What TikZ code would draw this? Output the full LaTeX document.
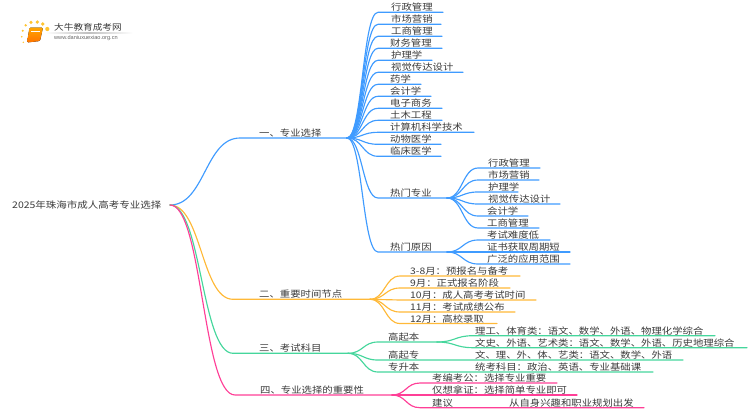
\documentclass[tikz,border=0pt]{standalone}
\usepackage{fontspec}
\setmainfont[FakeStretch=1.15]{Noto Sans CJK SC}
\setsansfont{Liberation Sans}
\usetikzlibrary{calc}
\definecolor{cblue}{HTML}{3F9BFF}
\definecolor{corange}{HTML}{FFB938}
\definecolor{cgreen}{HTML}{45D69C}
\definecolor{cpink}{HTML}{FF3F97}
\definecolor{ctext}{HTML}{3A3A3A}
\tikzset{
  lbl/.style={anchor=base west,inner sep=0pt,text=ctext,font=\fontsize{9.02}{11}\selectfont},
  branch/.style={line width=1.15pt,line cap=round},
}
% name, colour, hub, start x, end x, y, text x, text
\newcommand\tree[8]{%
  \node[lbl] (#1) at (#7,#6-1.5) {#8};
  \coordinate (#1-s) at (#4,#6);
  \coordinate (#1-e) at (#5,#6);
  \coordinate (#1-m) at ($(#3)!.5!(#1-s)$);
  \draw[branch,draw=#2] (#3) .. controls (#1-m |- #3) and (#1-m |- #1-s) .. (#1-s) -- (#1-e);
}
\begin{document}
\begin{tikzpicture}[x=1pt,y=-1pt]
\useasboundingbox (0,0) rectangle (750,410);
% logo
\foreach \px/\py/\r in {22.7/30.7/1.1,25.7/25.3/1.3,31/22.3/1.7,37.3/22/1.8,42.7/24/1.9,47.3/29/2.1,21.7/36.7/0.9,23.3/42.3/0.8}
  \fill[corange!85!yellow] (\px,\py) circle (\r);
\fill[rounded corners=1.2pt,top color=orange!70!yellow,bottom color=orange!90!red]
  (29.5,27.5) -- (43,27.5) -- (40,41) -- (27,42.5) -- cycle;
\draw[white,line width=0.5pt] (31,31) -- (40,31);
\shade[left color=white,right color=white,middle color=black!25] (45,32.7) rectangle (133,33.3);
\node[anchor=west,inner sep=0pt,text=ctext,font=\fontsize{8.4}{11}\selectfont] (logotext) at (54,27.5) {大牛教育成考网};
\node[anchor=west,inner sep=0pt,text=black!60,font=\sffamily\fontsize{5.6}{7}\selectfont] (logourl) at (54,38.5) {www.daniuxuexiao.org.cn};
% root
\node[lbl,font=\fontsize{9.12}{11}\selectfont] (root) at (12,208.5) {2025年珠海市成人高考专业选择};
\coordinate (h0) at (170,205);
\coordinate (h1) at (347,138);
\coordinate (h1b) at (447,198);
\coordinate (h1c) at (447,252);
\coordinate (h2) at (370,299.3);
\coordinate (h3) at (348,353.3);
\coordinate (h3a) at (437,342);
\coordinate (h4) at (392,395);
% level 1
\tree{a}{cblue}{h0}{240}{347}{138}{259}{一、专业选择}
\tree{b}{corange}{h0}{233}{370}{299.3}{259}{二、重要时间节点}
\tree{c}{cgreen}{h0}{233}{348}{353.3}{259}{三、考试科目}
\tree{d}{cpink}{h0}{235}{392}{395}{260}{四、专业选择的重要性}
% branch 1
\tree{a1}{cblue}{h1}{378}{443}{12.3}{391}{行政管理}
\tree{a2}{cblue}{h1}{378}{441}{24.3}{391}{市场营销}
\tree{a3}{cblue}{h1}{378}{442}{36.3}{391}{工商管理}
\tree{a4}{cblue}{h1}{378}{442}{48.3}{390}{财务管理}
\tree{a5}{cblue}{h1}{378}{432}{60.3}{391}{护理学}
\tree{a6}{cblue}{h1}{378}{463}{72.3}{391}{视觉传达设计}
\tree{a7}{cblue}{h1}{378}{421}{84.3}{390}{药学}
\tree{a8}{cblue}{h1}{378}{431}{96.3}{390}{会计学}
\tree{a9}{cblue}{h1}{378}{442}{108.3}{390}{电子商务}
\tree{a10}{cblue}{h1}{378}{442}{120.3}{390}{土木工程}
\tree{a11}{cblue}{h1}{378}{474}{132.3}{390}{计算机科学技术}
\tree{a12}{cblue}{h1}{378}{441}{144.3}{390}{动物医学}
\tree{a13}{cblue}{h1}{378}{441}{156.3}{390}{临床医学}
\tree{a14}{cblue}{h1}{378}{447}{198}{390}{热门专业}
\tree{a15}{cblue}{h1}{378}{447}{252}{390}{热门原因}
% hot majors
\tree{p1}{cblue}{h1b}{478}{540}{168}{488}{行政管理}
\tree{p2}{cblue}{h1b}{478}{539}{180}{488}{市场营销}
\tree{p3}{cblue}{h1b}{478}{518}{192}{488}{护理学}
\tree{p4}{cblue}{h1b}{478}{560}{204}{488}{视觉传达设计}
\tree{p5}{cblue}{h1b}{478}{528}{216}{487}{会计学}
\tree{p6}{cblue}{h1b}{478}{539}{228}{487}{工商管理}
% reasons
\tree{q1}{cblue}{h1c}{478}{550}{240}{487}{考试难度低}
\tree{q2}{cblue}{h1c}{478}{570}{252}{487}{证书获取周期短}
\tree{q3}{cblue}{h1c}{478}{570}{264}{487}{广泛的应用范围}
% timeline
\tree{t1}{corange}{h2}{400}{520}{276}{410}{3-8月：预报名与备考}
\tree{t2}{corange}{h2}{400}{510}{288}{410}{9月：正式报名阶段}
\tree{t3}{corange}{h2}{400}{536}{300}{410}{10月：成人高考考试时间}
\tree{t4}{corange}{h2}{400}{515}{312}{410}{11月：考试成绩公布}
\tree{t5}{corange}{h2}{400}{497}{323.5}{410}{12月：高校录取}
% subjects
\tree{c1}{cgreen}{h3}{378}{437}{342}{388}{高起本}
\tree{c2}{cgreen}{h3}{378}{683}{360}{388}{高起专}
\tree{c3}{cgreen}{h3}{378}{653}{372}{388}{专升本}
\tree{c11}{cgreen}{h3a}{473}{715}{335.7}{475}{理工、体育类：语文、数学、外语、物理化学综合}
\tree{c12}{cgreen}{h3a}{473}{747}{347.7}{475}{文史、外语、艺术类：语文、数学、外语、历史地理综合}
\node[lbl] (c21) at (475,358.5) {文、理、外、体、艺类：语文、数学、外语};
\node[lbl] (c31) at (475,370.5) {统考科目：政治、英语、专业基础课};
% importance
\tree{d1}{cpink}{h4}{420}{557}{383}{432}{考编考公：选择专业重要}
\tree{d2}{cpink}{h4}{420}{577}{395}{432}{仅想拿证：选择简单专业即可}
\tree{d3}{cpink}{h4}{420}{644}{407.7}{432}{建议}
\node[lbl] (d31) at (509,406.2) {从自身兴趣和职业规划出发};
\end{tikzpicture}
\end{document}
